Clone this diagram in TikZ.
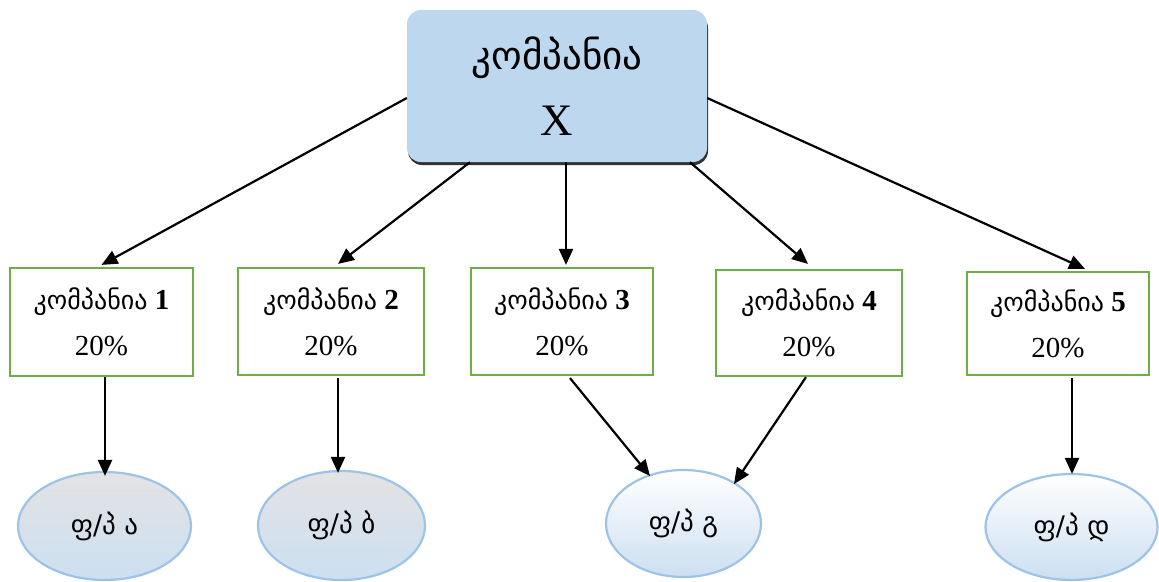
\documentclass[tikz,border=0pt]{standalone}
\usepackage{fontspec}
\setmainfont{Liberation Serif}
\newfontfamily\geo{DejaVu Sans}
\usetikzlibrary{arrows.meta,shapes.geometric}
\definecolor{topfill}{HTML}{BDD7EE}
\definecolor{boxgreen}{HTML}{70AD47}
\definecolor{ellline}{HTML}{9DC3E6}
\definecolor{ellbot}{HTML}{CCDFF1}
\definecolor{ellgray}{HTML}{E3E3E3}
\tikzset{
  topbox/.style={draw=none,fill=topfill,rounded corners=14pt,minimum width=300pt,minimum height=152pt,align=center,font=\fontsize{39}{66}\selectfont},
  cobox/.style={draw=boxgreen,line width=2.2pt,fill=white,minimum width=#1,align=center,font=\fontsize{29}{46}\selectfont},
  fp/.style={ellipse,draw=ellline,line width=2.2pt},
  fpgray/.style={fp,top color=ellgray,bottom color=ellbot},
  fpwhite/.style={fp,top color=white,bottom color=ellbot},
  arr/.style={line width=2.2pt,-{Triangle[length=16pt,width=14pt]}},
}
\newcommand{\geobox}{\geo\fontsize{26}{46}\selectfont}
\newcommand{\geoell}{\geo\fontsize{27}{30}\selectfont}
\begin{document}
\begin{tikzpicture}[x=1pt,y=-1pt]
\useasboundingbox (0,0) rectangle (1159,581);
% top box with shadow
\fill[black!80,rounded corners=14pt] (408,14) rectangle (708,165);
\node[topbox] (top) at (557,86) {\raisebox{0pt}{\geo\fontsize{39}{66}\selectfont კომპანია}\\{\fontsize{45}{66}\selectfont X}};
% company boxes
\node[cobox=183pt,minimum height=108pt] (b1) at (101.5,322) {{\geobox კომპანია} \textbf{1}\\20\%};
\node[cobox=186pt,minimum height=107pt] (b2) at (331,321.5) {{\geobox კომპანია} \textbf{2}\\20\%};
\node[cobox=182pt,minimum height=107pt] (b3) at (562,321.5) {{\geobox კომპანია} \textbf{3}\\20\%};
\node[cobox=186pt,minimum height=106pt] (b4) at (809,323) {{\geobox კომპანია} \textbf{4}\\20\%};
\node[cobox=182pt,minimum height=103pt] (b5) at (1058,323.5) {{\geobox კომპანია} \textbf{5}\\20\%};
% ellipses
\node[fpgray,minimum width=173pt,minimum height=108pt] (ea) at (104.5,526) {\geoell ფ/პ ა};
\node[fpgray,minimum width=167pt,minimum height=109pt] (eb) at (341.5,525.5) {\geoell ფ/პ ბ};
\node[fpwhite,minimum width=155pt,minimum height=107pt] (eg) at (683.5,523.5) {\geoell ფ/პ გ};
\node[fpwhite,minimum width=172pt,minimum height=106pt] (ed) at (1071.5,527) {\geoell ფ/პ დ};
% arrows from top
\draw[arr] ([yshift=-12pt]top.west) -- ([yshift=2pt]b1.north);
\draw[arr] ([xshift=-87pt]top.south) -- ([xshift=7pt,yshift=3pt]b2.north);
\draw[arr] ([xshift=9pt]top.south) -- ([xshift=4pt,yshift=2pt]b3.north);
\draw[arr] ([xshift=133pt]top.south) -- ([xshift=-1pt,yshift=5pt]b4.north);
\draw[arr] ([yshift=-12pt]top.east) -- ([xshift=27pt,yshift=2pt]b5.north);
% arrows to ellipses
\draw[arr] ([xshift=3.5pt]b1.south) -- ([xshift=0.5pt,yshift=-5pt]ea.north);
\draw[arr] ([xshift=7pt,yshift=-2pt]b2.south) -- ([xshift=-3.5pt,yshift=-3pt]eb.north);
\draw[arr] ([xshift=8pt,yshift=-2pt]b3.south) -- (650,476);
\draw[arr] ([xshift=-3pt]b4.south) -- (734,484);
\draw[arr] ([xshift=14pt,yshift=-2pt]b5.south) -- ([xshift=0.5pt,yshift=-1pt]ed.north);
\end{tikzpicture}
\end{document}
